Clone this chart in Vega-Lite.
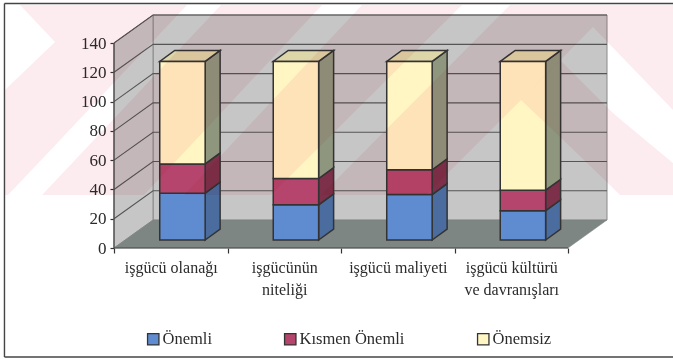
{
"$schema":"https://vega.github.io/schema/vega-lite/v6.json",
"width":493,"height":233,"autosize":"none",
"padding":{"left":114,"top":15,"right":66,"bottom":111},
"background":"#ffffff",
"config":{"view":{"stroke":null},"font":"Liberation Serif"},
"datasets":{
"bars":[
{"category":"işgücü olanağı","series":"Önemli","value":32},{"category":"işgücü olanağı","series":"Kısmen Önemli","value":20},{"category":"işgücü olanağı","series":"Önemsiz","value":70},
{"category":"işgücünün niteliği","series":"Önemli","value":24},{"category":"işgücünün niteliği","series":"Kısmen Önemli","value":18},{"category":"işgücünün niteliği","series":"Önemsiz","value":80},
{"category":"işgücü maliyeti","series":"Önemli","value":31},{"category":"işgücü maliyeti","series":"Kısmen Önemli","value":17},{"category":"işgücü maliyeti","series":"Önemsiz","value":74},
{"category":"işgücü kültürü ve davranışları","series":"Önemli","value":20},{"category":"işgücü kültürü ve davranışları","series":"Kısmen Önemli","value":14},{"category":"işgücü kültürü ve davranışları","series":"Önemsiz","value":88}
],
"ticks":[{"tick":20},{"tick":40},{"tick":60},{"tick":80},{"tick":100},{"tick":120},{"tick":140}]
},
"encoding":{
"x":{"field":"x","type":"quantitative","scale":{"domain":[0,4.3436],"nice":false,"zero":false},
 "axis":{"title":null,"grid":false,"domain":false,"values":[0,0.5,1,1.5,2,2.5,3,3.5,4],"tickSize":5,"tickColor":"#333333","tickWidth":1.2,
  "tickOpacity":{"condition":{"test":"datum.value % 1 == 0","value":1},"value":0},
  "labelExpr":"datum.value==0.5?'işgücü olanağı':datum.value==1.5?['işgücünün','niteliği']:datum.value==2.5?'işgücü maliyeti':datum.value==3.5?['işgücü kültürü','ve davranışları']:''",
  "labelFont":"Liberation Serif","labelFontSize":16,"labelColor":"#2b2b2b","labelLineHeight":22,"labelPadding":6,"labelOverlap":false,"labelFlush":false}},
"y":{"field":"y","type":"quantitative","scale":{"domain":[0,159.15],"nice":false,"zero":false},
 "axis":{"title":null,"grid":false,"domain":false,"values":[0,20,40,60,80,100,120,140],"tickSize":4,"tickColor":"#333333","tickWidth":1.2,
  "labelFont":"Liberation Serif","labelFontSize":17,"labelColor":"#2b2b2b","labelPadding":4,"labelOverlap":false,"labelFlush":false}}
},
"layer":[
{"data":{"values":[{"x":0.344,"x2":4.3436,"y":19.1,"y2":159.15}]},"mark":{"type":"rect","fill":"#c6c6c6","stroke":"#8a8a8a","strokeWidth":1},"encoding":{"x2":{"field":"x2"},"y2":{"field":"y2"}}},
{"data":{"values":[{"x":0,"y":0,"y2":140},{"x":0.344,"y":19.1,"y2":159.15}]},"mark":{"type":"area","orient":"vertical","fill":"#c6c6c6","stroke":"#8a8a8a","strokeWidth":1},"encoding":{"y2":{"field":"y2"}}},
{"data":{"values":[{"x":0,"y":0,"y2":0},{"x":0.344,"y":0,"y2":19.1},{"x":4,"y":0,"y2":19.1},{"x":4.3436,"y":19.1,"y2":19.1}]},"mark":{"type":"area","orient":"vertical","fill":"#7d8683","stroke":"#7d8683","strokeWidth":0.5},"encoding":{"y2":{"field":"y2"}}},
{"data":{"name":"ticks"},"transform":[{"calculate":"0","as":"p0"},{"calculate":"0.344","as":"p1"},{"calculate":"4.3436","as":"p2"},{"fold":["p0","p1","p2"],"as":["k","x"]},{"calculate":"datum.tick+(datum.x>0?19.1:0)","as":"y"}],"mark":{"type":"line","stroke":"#555555","strokeWidth":1.1},"encoding":{"detail":{"field":"tick"}}},
{"data":{"values":[{"x":0,"y":0,"y2":140}]},"mark":{"type":"rule","stroke":"#444444","strokeWidth":1.2},"encoding":{"y2":{"field":"y2"}}},
{"data":{"values":[{"x":0,"x2":4,"y":0}]},"mark":{"type":"rule","stroke":"#444444","strokeWidth":1.2},"encoding":{"x2":{"field":"x2"}}},
{"data":{"name":"bars"},"transform":[
 {"calculate":"indexof(['işgücü olanağı','işgücünün niteliği','işgücü maliyeti','işgücü kültürü ve davranışları'],datum.category)","as":"i"},
 {"calculate":"indexof(['Önemli','Kısmen Önemli','Önemsiz'],datum.series)","as":"ord"},
 {"stack":"value","groupby":["i"],"sort":[{"field":"ord"}],"as":["v0","v1"]},
 {"calculate":"0","as":"p0"},{"calculate":"1","as":"p1"},{"fold":["p0","p1"],"as":["k","f"]},
 {"calculate":"datum.i+0.803+datum.f*0.132","as":"x"},
 {"calculate":"datum.v0+5.46+datum.f*7.5","as":"y"},
 {"calculate":"datum.v1+5.46+datum.f*7.5","as":"y2"}],
 "mark":{"type":"area","orient":"vertical","stroke":"#333333","strokeWidth":1.5},
 "encoding":{"y2":{"field":"y2"},"detail":{"field":"i"},"color":{"field":"series","type":"nominal","legend":null,"scale":{"domain":["Önemli","Kısmen Önemli","Önemsiz"],"range":["#4a6c9f","#7c3049","#8f967e"]}}}},
{"data":{"name":"bars"},"transform":[
 {"calculate":"indexof(['işgücü olanağı','işgücünün niteliği','işgücü maliyeti','işgücü kültürü ve davranışları'],datum.category)","as":"i"},
 {"calculate":"indexof(['Önemli','Kısmen Önemli','Önemsiz'],datum.series)","as":"ord"},
 {"stack":"value","groupby":["i"],"sort":[{"field":"ord"}],"as":["v0","v1"]},
 {"filter":"datum.series=='Önemsiz'"},
 {"calculate":"0","as":"p0"},{"calculate":"1","as":"p1"},{"calculate":"2","as":"p2"},{"calculate":"3","as":"p3"},{"fold":["p0","p1","p2","p3"],"as":["k","f"]},
 {"calculate":"datum.i+0.403+[0,0.132,0.4,0.532][datum.f]","as":"x"},
 {"calculate":"datum.v1+5.46+(datum.f==3?7.5:0)","as":"y"},
 {"calculate":"datum.v1+5.46+(datum.f==0?0:7.5)","as":"y2"}],
 "mark":{"type":"area","orient":"vertical","fill":"#dcd6a8","stroke":"#333333","strokeWidth":1.5},
 "encoding":{"y2":{"field":"y2"},"detail":{"field":"i"}}},
{"data":{"name":"bars"},"transform":[
 {"calculate":"indexof(['işgücü olanağı','işgücünün niteliği','işgücü maliyeti','işgücü kültürü ve davranışları'],datum.category)","as":"i"},
 {"calculate":"indexof(['Önemli','Kısmen Önemli','Önemsiz'],datum.series)","as":"ord"},
 {"stack":"value","groupby":["i"],"sort":[{"field":"ord"}],"as":["v0","v1"]},
 {"calculate":"datum.i+0.403","as":"x"},{"calculate":"datum.i+0.803","as":"x2"},
 {"calculate":"datum.v0+5.46","as":"y"},{"calculate":"datum.v1+5.46","as":"y2"}],
 "mark":{"type":"rect","stroke":"#333333","strokeWidth":1.5},
 "encoding":{"x2":{"field":"x2"},"y2":{"field":"y2"},"color":{"field":"series","type":"nominal","title":null,
  "scale":{"domain":["Önemli","Kısmen Önemli","Önemsiz"],"range":["#5f8bd0","#b5456c","#fff6c4"]},
  "legend":{"orient":"none","legendX":31,"legendY":316,"direction":"horizontal","columns":3,"gridAlign":"none","columnPadding":69,"symbolType":"square","symbolSize":130,"symbolStrokeColor":"#333333","symbolStrokeWidth":1.3,"labelFont":"Liberation Serif","labelFontSize":16.5,"labelColor":"#2b2b2b","labelOffset":1,"title":null,"values":["Önemli","Kısmen Önemli","Önemsiz"]}}}},
{"data":{"values":[
 {"x":-0.965,"x2":4.925,"y":167,"y2":167},
 {"x":-0.965,"x2":-0.965,"y":167,"y2":-74.5},
 {"x":-0.965,"x2":4.925,"y":-74.5,"y2":-74.5}]},
 "mark":{"type":"rule","stroke":"#444444","strokeWidth":1.4},"encoding":{"x2":{"field":"x2"},"y2":{"field":"y2"}}},
{"data":{"values":[
 {"s":"a1","x":-0.828,"y":165.98,"y2":165.98},{"s":"a1","x":-0.52,"y":165.98,"y2":140.71},
 {"s":"a2","x":-0.96,"y":107.9,"y2":36.2},{"s":"a2","x":-0.934,"y":110,"y2":36.2},{"s":"a2","x":-0.52,"y":140.7,"y2":70},
 {"s":"a3","x":-0.52,"y":165.98,"y2":70},{"s":"a3","x":0.643,"y":165.98,"y2":165.98},
 {"s":"b","x":-0.634,"y":36.2,"y2":36.2},{"s":"b","x":0.264,"y":110.2,"y2":36.2},{"s":"b","x":0.943,"y":165.98,"y2":92.2},{"s":"b","x":1.833,"y":165.98,"y2":165.98},
 {"s":"c","x":0.617,"y":36.2,"y2":36.2},{"s":"c","x":1.383,"y":99.7,"y2":36.2},{"s":"c","x":2.185,"y":165.98,"y2":98},{"s":"c","x":3.066,"y":165.98,"y2":165.98},
 {"s":"d","x":1.824,"y":36.2,"y2":36.2},{"s":"d","x":2.749,"y":108.3,"y2":36.2},{"s":"d","x":3.489,"y":165.98,"y2":93.6},{"s":"d","x":3.586,"y":165.98,"y2":101.1},{"s":"d","x":4.22,"y":165.98,"y2":151},{"s":"d","x":4.925,"y":165.98,"y2":94.3},
 {"s":"e","x":3.586,"y":101.1,"y2":101.1},{"s":"e","x":3.93,"y":128.4,"y2":75.8},{"s":"e","x":4.396,"y":92.2,"y2":41},{"s":"e","x":4.458,"y":88.1,"y2":36.2},{"s":"e","x":4.925,"y":58.1,"y2":36.2}
 ]},
 "mark":{"type":"area","orient":"vertical","fill":"#fdecef","blend":"multiply"},
 "encoding":{"y2":{"field":"y2"},"detail":{"field":"s"}}}
],
"resolve":{"scale":{"color":"independent"}}
}
